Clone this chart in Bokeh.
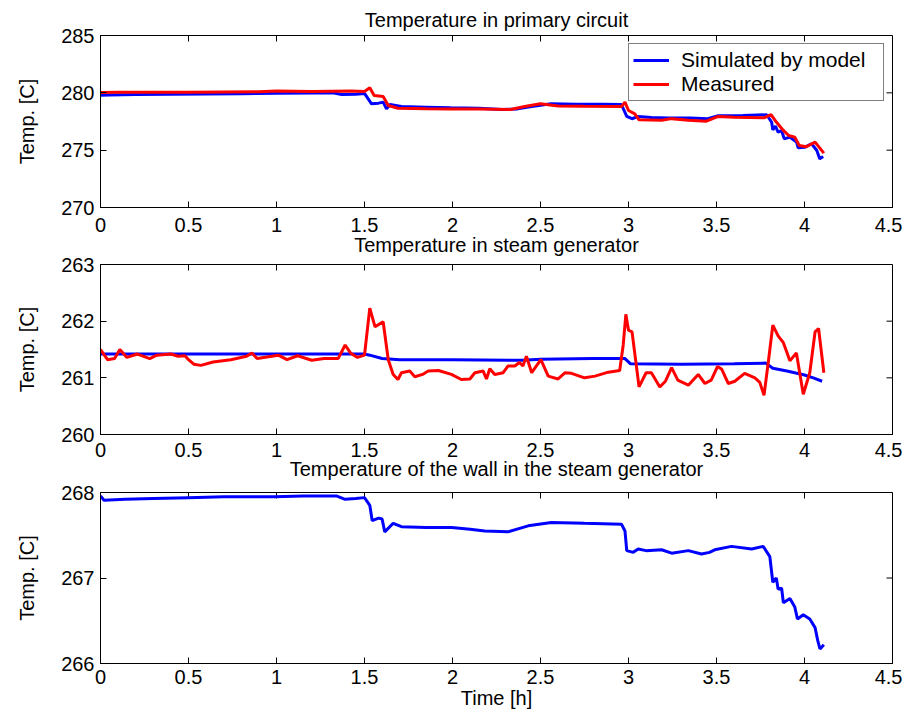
import math
from bokeh.plotting import figure
from bokeh.layouts import column
from bokeh.models import Range1d, FixedTicker, NumeralTickFormatter, ColumnDataSource, Legend, LegendItem
from bokeh.embed import file_html
from bokeh.resources import INLINE

FONT = "Liberation Sans"
FS = "20px"

# ---------------- data ----------------
x_ticks = [0, 0.5, 1, 1.5, 2, 2.5, 3, 3.5, 4, 4.5]

titles = ["Temperature in primary circuit",
          "Temperature in steam generator",
          "Temperature of the wall in the steam generator"]

y1_ticks = [270, 275, 280, 285]
y2_ticks = [260, 261, 262, 263]
y3_ticks = [266, 267, 268]

# Panel 1: primary circuit
t_sim1 = [0.0, 0.05, 0.2, 0.4, 0.6, 0.8, 1.0, 1.2, 1.32, 1.37, 1.45, 1.5, 1.52, 1.54, 1.58,
          1.606, 1.625, 1.645, 1.71, 1.85, 1.99, 2.15, 2.28, 2.37, 2.45, 2.56, 2.7, 2.85, 2.96,
          2.99, 3.02, 3.055, 3.13, 3.226, 3.35, 3.45, 3.51, 3.65, 3.785, 3.813, 3.82, 3.835,
          3.85, 3.87, 3.885, 3.916, 3.955, 3.964, 4.0, 4.04, 4.07, 4.087, 4.106]
v_sim1 = [279.8, 279.82, 279.86, 279.88, 279.9, 279.93, 279.97, 279.98, 280.0, 279.85, 279.88,
          279.95, 279.5, 279.04, 279.1, 279.19, 278.6, 278.98, 278.8, 278.75, 278.7, 278.65,
          278.55, 278.6, 278.8, 279.04, 279.0, 279.0, 278.98, 277.94, 277.74, 277.94, 277.85,
          277.8, 277.8, 277.74, 278.0, 278.02, 278.09, 277.45, 276.78, 277.1, 276.57, 276.7,
          275.99, 276.14, 275.7, 275.21, 275.25, 275.56, 274.97, 274.24, 274.44]

t_meas1 = [0.0, 0.1, 0.3, 0.5, 0.7, 0.9, 1.0, 1.2, 1.426, 1.5, 1.53, 1.555, 1.606, 1.635,
           1.69, 1.85, 1.994, 2.15, 2.33, 2.41, 2.5, 2.6, 2.75, 2.96, 2.98, 3.0, 3.036, 3.06,
           3.188, 3.245, 3.34, 3.443, 3.51, 3.6, 3.77, 3.81, 3.84, 3.88, 3.91, 3.945, 3.97,
           4.01, 4.06, 4.11]
v_meas1 = [280.02, 280.05, 280.06, 280.06, 280.08, 280.1, 280.15, 280.12, 280.15, 280.12,
           280.44, 279.77, 279.68, 278.9, 278.66, 278.62, 278.6, 278.58, 278.55, 278.8,
           279.04, 278.85, 278.82, 278.8, 279.19, 278.46, 278.17, 277.65, 277.6, 277.75,
           277.6, 277.53, 277.94, 277.87, 277.82, 278.1, 277.45, 276.72, 276.28, 276.14,
           275.41, 275.3, 275.7, 274.74]

# Panel 2: steam generator
t_sim2 = [0.0, 0.5, 1.0, 1.5, 1.53, 1.6, 1.7, 2.0, 2.4, 2.5, 2.8, 2.98, 3.01, 3.3, 3.6,
          3.78, 3.82, 3.9, 4.0, 4.05, 4.1]
v_sim2 = [261.42, 261.42, 261.42, 261.42, 261.4, 261.34, 261.32, 261.32, 261.31, 261.33,
          261.34, 261.34, 261.25, 261.24, 261.25, 261.26, 261.17, 261.12, 261.05, 261.0, 260.94]

t_meas2 = [0.0, 0.04, 0.08, 0.11, 0.15, 0.21, 0.28, 0.32, 0.4, 0.44, 0.48, 0.5, 0.53, 0.57,
           0.64, 0.74, 0.83, 0.86, 0.89, 1.01, 1.06, 1.12, 1.2, 1.27, 1.35, 1.39, 1.42, 1.46,
           1.5, 1.53, 1.56, 1.606, 1.635, 1.663, 1.69, 1.71, 1.757, 1.786, 1.83, 1.862, 1.92,
           1.994, 2.05, 2.099, 2.127, 2.174, 2.193, 2.212, 2.24, 2.288, 2.316, 2.354, 2.38,
           2.4, 2.42, 2.45, 2.502, 2.544, 2.6, 2.64, 2.676, 2.75, 2.81, 2.885, 2.95, 2.97,
           2.985, 3.0, 3.02, 3.06, 3.1, 3.13, 3.178, 3.21, 3.245, 3.28, 3.34, 3.396, 3.434,
           3.47, 3.506, 3.53, 3.567, 3.604, 3.66, 3.718, 3.746, 3.77, 3.794, 3.82, 3.85,
           3.88, 3.917, 3.954, 3.993, 4.03, 4.06, 4.08, 4.11]
v_meas2 = [261.5, 261.32, 261.34, 261.5, 261.36, 261.42, 261.34, 261.4, 261.42, 261.38,
           261.39, 261.32, 261.24, 261.22, 261.28, 261.32, 261.38, 261.44, 261.34, 261.4,
           261.32, 261.39, 261.31, 261.34, 261.34, 261.58, 261.44, 261.36, 261.4, 262.23,
           261.9, 261.99, 261.32, 261.06, 260.97, 261.09, 261.12, 261.02, 261.06, 261.12,
           261.13, 261.06, 260.97, 260.98, 261.09, 261.12, 260.98, 261.16, 261.06, 261.09,
           261.21, 261.21, 261.27, 261.21, 261.38, 261.09, 261.32, 261.03, 260.98, 261.09,
           261.08, 261.0, 261.03, 261.1, 261.13, 261.58, 262.12, 261.84, 261.81, 260.84,
           261.09, 261.09, 260.84, 260.94, 261.18, 260.96, 260.87, 261.06, 260.9, 260.96,
           261.2, 261.15, 260.9, 260.94, 261.08, 261.0, 260.92, 260.69, 261.27, 261.93,
           261.74, 261.62, 261.3, 261.44, 260.71, 261.09, 261.81, 261.87, 261.09]

# Panel 3: wall of steam generator
t_sim3 = [0.0, 0.02, 0.14, 0.3, 0.5, 0.7, 0.99, 1.15, 1.27, 1.34, 1.39, 1.45, 1.5, 1.53,
          1.544, 1.58, 1.6, 1.615, 1.663, 1.71, 1.85, 1.994, 2.1, 2.183, 2.316, 2.43, 2.562,
          2.75, 2.96, 2.98, 2.99, 3.027, 3.055, 3.1, 3.188, 3.245, 3.34, 3.415, 3.46, 3.49,
          3.585, 3.7, 3.765, 3.803, 3.82, 3.84, 3.85, 3.87, 3.88, 3.917, 3.945, 3.96, 3.993,
          4.03, 4.06, 4.075, 4.088, 4.11]
v_sim3 = [267.96, 267.91, 267.92, 267.93, 267.94, 267.95, 267.95, 267.96, 267.96, 267.96,
          267.92, 267.93, 267.94, 267.85, 267.67, 267.7, 267.69, 267.54, 267.64, 267.6,
          267.59, 267.59, 267.57, 267.55, 267.54, 267.61, 267.65, 267.64, 267.63, 267.55,
          267.32, 267.3, 267.34, 267.32, 267.33, 267.29, 267.32, 267.28, 267.3, 267.33,
          267.37, 267.34, 267.37, 267.25, 266.95, 267.0, 266.87, 266.88, 266.71, 266.76,
          266.66, 266.52, 266.57, 266.52, 266.42, 266.27, 266.17, 266.22]

BLUE = "#0000ff"
RED = "#ff0000"


def make_panel(title, y_lo, y_hi, y_ticks, frame_h, top, bottom, title_standoff,
               tick_standoff, margin_top, xlabel=None):
    p = figure(frame_width=792, frame_height=frame_h,
               x_range=Range1d(0, 4.5), y_range=Range1d(y_lo, y_hi),
               output_backend="svg", toolbar_location=None,
               min_border_left=100, min_border_right=10,
               min_border_top=top, min_border_bottom=bottom,
               margin=(margin_top, 0, 0, 0))
    p.title.text = title
    p.title.text_font = FONT
    p.title.text_font_size = FS
    p.title.text_font_style = "normal"
    p.title.text_color = "black"
    p.title.align = "center"
    p.title.standoff = title_standoff
    p.xgrid.visible = False
    p.ygrid.visible = False
    p.outline_line_color = "black"
    p.outline_line_alpha = 1
    p.outline_line_width = 1
    p.background_fill_color = "white"
    p.border_fill_color = None

    p.xaxis.ticker = FixedTicker(ticks=x_ticks)
    p.xaxis.formatter = NumeralTickFormatter(format="0.[0]")
    p.yaxis.ticker = FixedTicker(ticks=y_ticks)
    for ax in (p.xaxis[0], p.yaxis[0]):
        ax.major_tick_in = 6
        ax.major_tick_out = 0
        ax.minor_tick_line_color = None
        ax.axis_line_color = "black"
        ax.major_tick_line_color = "black"
        ax.major_label_text_font = FONT
        ax.major_label_text_font_size = FS
        ax.major_label_text_color = "black"
        ax.axis_label_text_font = FONT
        ax.axis_label_text_font_size = FS
        ax.axis_label_text_font_style = "normal"
        ax.axis_label_text_color = "black"
    p.xaxis.major_label_standoff = tick_standoff
    p.yaxis.major_label_standoff = 6
    p.yaxis.axis_label = "Temp. [C]"
    p.yaxis.axis_label_standoff = 20
    if xlabel:
        p.xaxis.axis_label = xlabel
        p.xaxis.axis_label_standoff = 0

    # inward ticks on the top and right edges of the box (MATLAB style)
    p.ray(x=x_ticks, y=[y_hi] * len(x_ticks), length=6, length_units="screen",
          angle=-math.pi / 2, line_color="black", line_width=1)
    p.ray(x=[4.5] * len(y_ticks), y=y_ticks, length=6, length_units="screen",
          angle=math.pi, line_color="black", line_width=1)
    return p


p1 = make_panel(titles[0], 270, 285, y1_ticks, 172, 35, 34, 9, 10, 0)
r_sim1 = p1.line(x="t", y="v", source=ColumnDataSource(dict(t=t_sim1, v=v_sim1)),
                 line_color=BLUE, line_width=3)
r_meas1 = p1.line(x="t", y="v", source=ColumnDataSource(dict(t=t_meas1, v=v_meas1)),
                  line_color=RED, line_width=3)
legend = Legend(items=[LegendItem(label="Simulated by model", renderers=[r_sim1]),
                       LegendItem(label="Measured", renderers=[r_meas1])],
                location="top_right")
legend.label_text_font = FONT
legend.label_text_font_size = "21px"
legend.label_text_color = "black"
legend.glyph_width = 36
legend.glyph_height = 18
legend.label_height = 18
legend.label_width = 198
legend.label_standoff = 12
legend.spacing = 0
legend.padding = 4
legend.margin = 8
legend.border_line_color = "black"
legend.border_line_width = 1
legend.background_fill_alpha = 1
p1.add_layout(legend)

p2 = make_panel(titles[1], 260, 263, y2_ticks, 170, 41, 31, 18, 8, -19)
p2.line(x="t", y="v", source=ColumnDataSource(dict(t=t_sim2, v=v_sim2)),
        line_color=BLUE, line_width=3)
p2.line(x="t", y="v", source=ColumnDataSource(dict(t=t_meas2, v=v_meas2)),
        line_color=RED, line_width=3)

p3 = make_panel(titles[2], 266, 268, y3_ticks, 171, 49, 53, 26, 6, -23, xlabel="Time [h]")
p3.line(x="t", y="v", source=ColumnDataSource(dict(t=t_sim3, v=v_sim3)),
        line_color=BLUE, line_width=3)

layout = column(p1, p2, p3, spacing=0)

open("out.html", "w").write(file_html(layout, INLINE))
